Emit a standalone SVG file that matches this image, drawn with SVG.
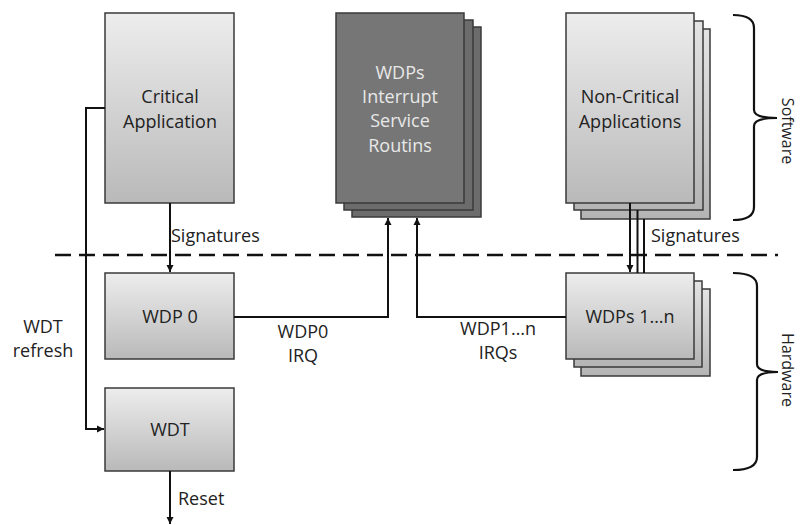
<svg xmlns="http://www.w3.org/2000/svg" width="800" height="525" viewBox="0 0 800 525">
  <defs>
    <linearGradient id="light" x1="0" y1="0" x2="0" y2="1">
      <stop offset="0" stop-color="#ededed"/>
      <stop offset="1" stop-color="#b9b9b9"/>
    </linearGradient>
    <linearGradient id="lightBack" x1="0" y1="0" x2="0" y2="1">
      <stop offset="0" stop-color="#e4e4e4"/>
      <stop offset="1" stop-color="#b4b4b4"/>
    </linearGradient>
    <marker id="arrow" markerWidth="8" markerHeight="8" refX="7" refY="4" orient="auto" markerUnits="userSpaceOnUse">
      <path d="M0,0.5 L7,4 L0,7.5 Z" fill="#111"/>
    </marker>
    <style>
      .box { fill: url(#light); stroke: #3a3a3a; stroke-width: 1.5; }
      .boxBack { fill: url(#lightBack); stroke: #3a3a3a; stroke-width: 1.5; }
      .dark { fill: #767676; stroke: #3a3a3a; stroke-width: 1.5; }
      .darkBack { fill: #6c6c6c; stroke: #3a3a3a; stroke-width: 1.5; }
      .t { font-family: "Open Sans", "Liberation Sans", Arial, sans-serif; font-size: 18px; fill: #222; }
      .side { font-size: 16px; }
      .mid { text-anchor: middle; }
      .inv { fill: #e8e8e8; }
      .wire { fill: none; stroke: #111; stroke-width: 2; }
      .brace { fill: none; stroke: #111; stroke-width: 2.2; }
    </style>
  </defs>

  <!-- software / hardware boundary -->
  <line x1="55" y1="255" x2="778" y2="255" stroke="#111" stroke-width="2.5" stroke-dasharray="16 8"/>

  <g id="critical-app">
    <rect class="box" x="105" y="13" width="129" height="190"/>
    <text class="t mid" x="170" y="103">Critical</text>
    <text class="t mid" x="170" y="128">Application</text>
  </g>

  <g id="isr">
    <rect class="darkBack" x="352" y="27" width="129" height="190"/>
    <rect class="darkBack" x="344" y="20" width="129" height="190"/>
    <rect class="dark" x="336" y="13" width="128" height="190"/>
    <text class="t mid inv" x="400" y="79">WDPs</text>
    <text class="t mid inv" x="400" y="103">Interrupt</text>
    <text class="t mid inv" x="400" y="127">Service</text>
    <text class="t mid inv" x="400" y="152">Routins</text>
  </g>

  <g id="non-critical-apps">
    <rect class="boxBack" x="581" y="29" width="129" height="190"/>
    <rect class="boxBack" x="574" y="21" width="129" height="189"/>
    <rect class="box" x="566" y="13" width="128" height="190"/>
    <text class="t mid" x="630" y="103">Non-Critical</text>
    <text class="t mid" x="630" y="128">Applications</text>
  </g>

  <g id="wdp0">
    <rect class="box" x="105" y="273" width="129" height="86"/>
    <text class="t mid" x="170" y="323">WDP 0</text>
  </g>

  <g id="wdt">
    <rect class="box" x="105" y="388" width="129" height="83"/>
    <text class="t mid" x="170" y="436">WDT</text>
  </g>

  <g id="wdps">
    <rect class="boxBack" x="581" y="289" width="129" height="87"/>
    <rect class="boxBack" x="574" y="281" width="128" height="86"/>
    <rect class="box" x="566" y="273" width="128" height="86"/>
    <text class="t mid" x="630" y="323">WDPs 1…n</text>
  </g>

  <g id="software-brace">
    <path class="brace" d="M733,15 Q754,15 754,28 V110 Q754,118 777,118 Q754,118 754,126 V207 Q754,220 733,220"/>
    <text class="t side mid" transform="translate(782,131) rotate(90)">Software</text>
  </g>

  <g id="hardware-brace">
    <path class="brace" d="M733,273 Q757,273 757,286 V364 Q757,372 778,372 Q757,372 757,380 V457 Q757,470 733,470"/>
    <text class="t side mid" transform="translate(782,370) rotate(90)">Hardware</text>
  </g>

  <g id="connectors">
    <path class="wire" d="M170,203 V272" marker-end="url(#arrow)"/>
    <path class="wire" d="M105,108 H86 V429 H104" marker-end="url(#arrow)"/>
    <path class="wire" d="M234,317 H388 V218" marker-end="url(#arrow)"/>
    <path class="wire" d="M566,317 H417 V218" marker-end="url(#arrow)"/>
    <path class="wire" d="M630,203 V272" marker-end="url(#arrow)"/>
    <path class="wire" d="M637.5,210 V273"/>
    <path class="wire" d="M644,219 V273"/>
    <path class="wire" d="M170,471 V524" marker-end="url(#arrow)"/>

    <text class="t" x="171" y="242">Signatures</text>
    <text class="t" x="651" y="242">Signatures</text>
    <text class="t mid" x="43" y="333">WDT</text>
    <text class="t mid" x="43" y="357">refresh</text>
    <text class="t mid" x="303" y="338">WDP0</text>
    <text class="t mid" x="303" y="362">IRQ</text>
    <text class="t mid" x="498" y="335">WDP1…n</text>
    <text class="t mid" x="498" y="359">IRQs</text>
    <text class="t" x="178" y="505">Reset</text>
  </g>
</svg>
